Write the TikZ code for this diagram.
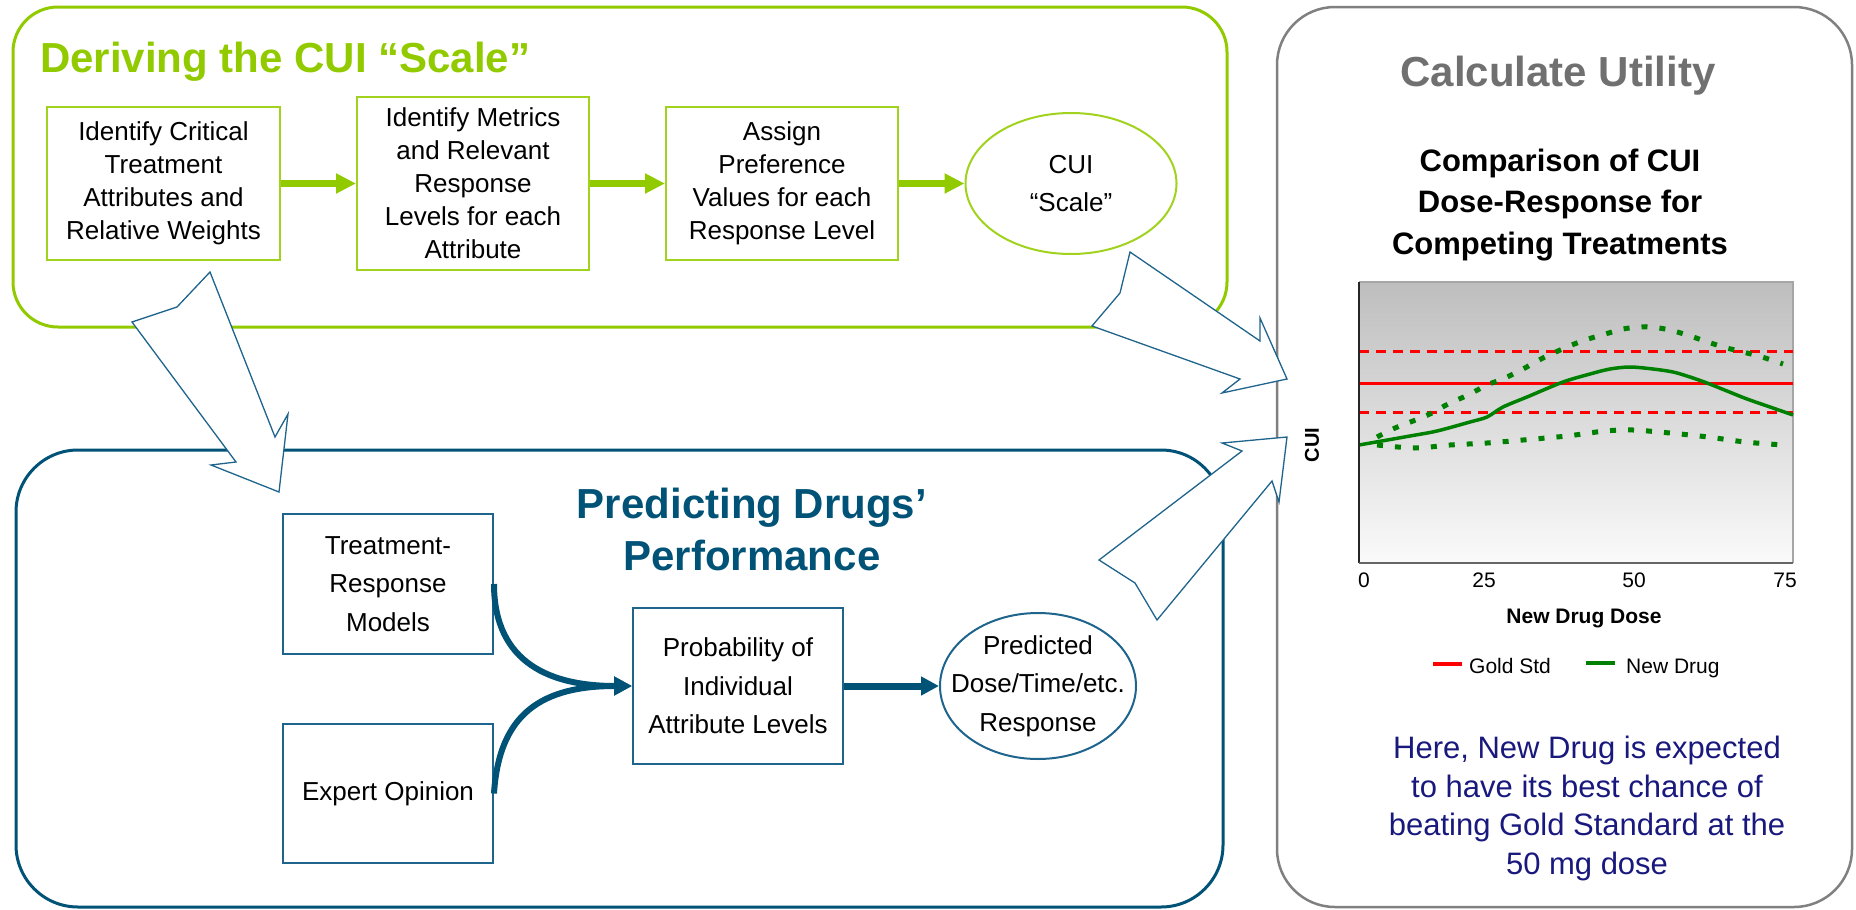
\documentclass[tikz,border=0pt]{standalone}
\usepackage{fontspec}
\setmainfont{Liberation Sans}
\usetikzlibrary{arrows.meta,shapes.geometric}
\definecolor{cgreen}{RGB}{146,202,0}
\definecolor{cgreenbox}{RGB}{160,210,30}
\definecolor{cblue}{RGB}{0,82,118}
\definecolor{cblueline}{RGB}{30,100,140}
\definecolor{cgray}{RGB}{128,128,128}
\definecolor{cgraytxt}{RGB}{112,112,112}
\definecolor{cnavy}{RGB}{25,25,125}
\definecolor{cdgreen}{RGB}{0,128,0}
\definecolor{cred}{RGB}{255,0,0}
\begin{document}
\begin{tikzpicture}[x=1pt,y=-1pt,
  gbox/.style={draw=cgreenbox, line width=2pt, align=center, inner sep=0pt, text=black,
    font=\fontsize{26}{33}\selectfont},
  gell/.style={gbox, ellipse, font=\fontsize{26}{38}\selectfont},
  bbox/.style={draw=cblueline, line width=2pt, align=center, inner sep=0pt, text=black,
    font=\fontsize{26}{38.5}\selectfont},
  bell/.style={bbox, ellipse, inner sep=-19pt},
  garrow/.style={draw=cgreen, line width=7pt, -{Triangle[length=20pt,width=19pt]}},
  barrow/.style={draw=cblue, line width=7pt, -{Triangle[length=18pt,width=18pt]}},
  bcurve/.style={draw=cblue, line width=6pt, -{Triangle[length=18pt,width=18pt]}},
  callout/.style={draw=cblueline, line width=1.3pt, fill=white, line join=miter},
  ttl/.style={inner sep=0pt, font=\fontsize{42}{52}\selectfont\bfseries},
  tick/.style={inner sep=0pt, anchor=base, font=\fontsize{21}{25}\selectfont},
]
\useasboundingbox (0,0) rectangle (1856,910);

% outer panels
\draw[cgreen, line width=3pt, rounded corners=45pt] (13,7) rectangle (1227,327);
\draw[cblue, line width=3pt, rounded corners=62pt] (16,450) rectangle (1223,907);
\draw[cgray, line width=2.5pt, rounded corners=58pt] (1277,7) rectangle (1852,907);

% block arrows
\draw[callout] (210,272) -- (177,307) -- (132,322) -- (236,462) -- (211,465) -- (279,492) -- (288,414) -- (275,437) -- cycle;
\draw[callout] (1130,252) -- (1120,293) -- (1092,326) -- (1240,379) -- (1222,393) -- (1287,379) -- (1260,318) -- (1260,341) -- cycle;
\draw[callout] (1099,560) -- (1135,583) -- (1157,620) -- (1272,481) -- (1279,502) -- (1287,437) -- (1222,443) -- (1242,451) -- cycle;

% titles
\node[ttl, anchor=base west, text=cgreen] (t1) at (40,72) {Deriving the CUI “Scale”};
\node[ttl, anchor=north, align=center, text=cblue] (t2) at (752,488) {Predicting Drugs’\\Performance};
\node[ttl, anchor=base, text=cgraytxt] (t3) at (1558,86) {Calculate Utility};

% top row
\node[gbox, minimum width=233pt, minimum height=153pt] (b1) at (163.5,183.5) {Identify Critical\\Treatment\\Attributes and\\Relative Weights};
\node[gbox, minimum width=232pt, minimum height=173pt] (b2) at (473,183.5) {Identify Metrics\\and Relevant\\Response\\Levels for each\\Attribute};
\node[gbox, minimum width=232pt, minimum height=153pt] (b3) at (782,183.5) {Assign\\Preference\\Values for each\\Response Level};
\node[gell, minimum width=211pt, minimum height=141pt] (cui) at (1071,183.5) {CUI\\“Scale”};
\draw[garrow] (b1.east) -- (b2.west);
\draw[garrow] (b2.east) -- (b3.west);
\draw[garrow] (b3.east) -- (cui.west);

% bottom panel
\node[bbox, minimum width=210pt, minimum height=140pt] (trm) at (388,584) {Treatment-\\Response\\Models};
\node[bbox, minimum width=210pt, minimum height=139pt] (exp) at (388,793.5) {Expert Opinion};
\node[bbox, minimum width=210pt, minimum height=156pt] (prob) at (738,686) {Probability of\\Individual\\Attribute Levels};
\node[bell, minimum width=196pt, minimum height=146pt] (pred) at (1038,686) {Predicted\\Dose/Time/etc.\\Response};
\draw[bcurve] (trm.east) .. controls +(0,80) and +(-80,0) .. (prob.west);
\draw[bcurve] (exp.east) .. controls +(5,-80) and +(-90,0) .. (prob.west);
\draw[barrow] (prob.east) -- (pred.west);

% chart
\node[anchor=north, align=center, inner sep=0pt, font=\fontsize{31}{41.5}\selectfont\bfseries] (ct) at (1560,148.5) {Comparison of CUI\\Dose-Response for\\Competing Treatments};
\shade[top color={rgb,255:red,190;green,190;blue,190}, bottom color={rgb,255:red,250;green,250;blue,250}] (1359,282) rectangle (1793,563);
\draw[gray!70, line width=1.5pt] (1359,282) -- (1793,282) -- (1793,563);
\draw[cred, line width=3pt, dash pattern=on 10pt off 7pt] (1359,351) -- (1793,351);
\draw[cred, line width=3pt, dash pattern=on 10pt off 7pt] (1359,412) -- (1793,412);
\draw[cred, line width=3pt] (1359,383) -- (1793,383);
\draw[cdgreen, line width=5pt, dash pattern=on 6pt off 12pt] plot[smooth] coordinates {(1377,437) (1395,428) (1413,421) (1432,413) (1448,404) (1468,395) (1487,385) (1505,378) (1523,369) (1543,358) (1567,347) (1585,340) (1602,335) (1623,329) (1640,327) (1652,327) (1670,330) (1687,335) (1705,341) (1723,347) (1743,352) (1762,357) (1783,364)};
\draw[cdgreen, line width=5pt, dash pattern=on 6pt off 12pt] plot[smooth] coordinates {(1377,445) (1415,448) (1450,445) (1487,443) (1523,440) (1567,436) (1605,431) (1633,430) (1670,433) (1708,437) (1745,442) (1783,445)};
\draw[cdgreen, line width=3.5pt] plot[smooth] coordinates {(1359,445) (1410,436) (1437,431) (1470,422) (1487,417) (1503,407) (1527,397) (1563,382) (1590,374) (1610,369) (1630,367) (1653,369) (1673,372) (1690,377) (1707,383) (1727,391) (1747,399) (1770,407) (1793,415)};
\draw[black!85, line width=2pt] (1359,282) -- (1359,563);
\draw[gray!80!black, line width=2.5pt] (1359,563) -- (1793,563);
\node[tick] (x0) at (1364,587) {0};
\node[tick] (x25) at (1484,587) {25};
\node[tick] (x50) at (1634,587) {50};
\node[tick] (x75) at (1785,587) {75};
\node[inner sep=0pt, anchor=base, font=\fontsize{21}{25}\selectfont\bfseries] (xl) at (1584,623) {New Drug Dose};
\node[inner sep=0pt, rotate=90, font=\fontsize{20}{24}\selectfont\bfseries] (yl) at (1312,445) {CUI};
\draw[cred, line width=4pt] (1433,664) -- (1462,664);
\node[tick, anchor=base west] (lg1) at (1469,673) {Gold Std};
\draw[cdgreen, line width=4pt] (1586,663) -- (1615,663);
\node[tick, anchor=base west] (lg2) at (1626,673) {New Drug};
\node[anchor=north, align=center, inner sep=0pt, text=cnavy, font=\fontsize{31}{38.5}\selectfont] (note) at (1587,736) {Here, New Drug is expected\\to have its best chance of\\beating Gold Standard at the\\50 mg dose};
\end{tikzpicture}
\end{document}
